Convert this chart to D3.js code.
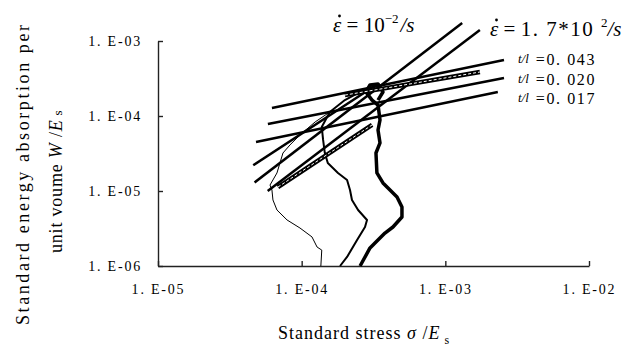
<!DOCTYPE html>
<html>
<head>
<meta charset="utf-8">
<script src="https://cdn.jsdelivr.net/npm/d3@7"></script>
<style>
  body { margin: 0; background: #fff; }
  text { font-family: "Liberation Serif", "DejaVu Serif", serif; fill: #000; }
  .tick text { font-family: "Liberation Serif", serif; font-size: 14px; letter-spacing: 1.8px; }
</style>
</head>
<body>
<svg id="chart"></svg>
<script>
'use strict';

// axis ticks
const xTicks = [1e-5, 1e-4, 1e-3, 1e-2];
const yTicks = [1e-6, 1e-5, 1e-4, 1e-3];
const tickLabels = ['1. E-06', '1. E-05', '1. E-04', '1. E-03'];
const xTickLabels = ['1. E-05', '1. E-04', '1. E-03', '1. E-02'];

const thinCurve = [
  [1.36e-4, 1.0e-6], [1.38e-4, 1.63e-6], [1.28e-4, 1.79e-6], [1.18e-4, 2.44e-6],
  [9.73e-5, 3.21e-6], [7.91e-5, 4.11e-6], [6.73e-5, 5.58e-6], [6.31e-5, 7.59e-6],
  [6.21e-5, 1.03e-5], [6.02e-5, 1.20e-5], [6.73e-5, 1.74e-5], [7.41e-5, 3.21e-5],
  [8.29e-5, 4.11e-5], [9.73e-5, 5.58e-5], [1.24e-4, 8.32e-5], [1.57e-4, 1.13e-4]
];
const mediumCurve = [
  [1.85e-4, 1.0e-6], [2.07e-4, 1.32e-6], [2.43e-4, 2.22e-6], [2.76e-4, 3.31e-6],
  [2.85e-4, 4.11e-6], [2.47e-4, 5.58e-6], [2.24e-4, 7.59e-6], [2.17e-4, 1.03e-5],
  [2.07e-4, 1.40e-5], [1.79e-4, 1.74e-5], [1.52e-4, 2.36e-5], [1.45e-4, 3.21e-5],
  [1.41e-4, 4.79e-5], [1.38e-4, 7.13e-5], [1.57e-4, 1.13e-4], [2.0e-4, 1.63e-4],
  [2.55e-4, 2.09e-4]
];
const thickCurve = [
  [2.55e-4, 1.0e-6], [2.99e-4, 1.74e-6], [3.80e-4, 2.75e-6], [4.32e-4, 3.31e-6],
  [4.99e-4, 4.50e-6], [4.99e-4, 6.12e-6], [4.61e-4, 8.32e-6], [4.12e-4, 1.03e-5],
  [3.68e-4, 1.28e-5], [3.34e-4, 1.74e-5], [3.29e-4, 3.21e-5], [3.51e-4, 4.37e-5],
  [3.40e-4, 6.51e-5], [3.51e-4, 8.85e-5], [3.40e-4, 1.40e-4], [3.09e-4, 1.63e-4],
  [2.80e-4, 2.09e-4], [2.99e-4, 2.59e-4], [3.40e-4, 2.67e-4], [3.68e-4, 2.09e-4],
  [3.40e-4, 1.63e-4]
];

// fitted straight lines, start and end points
const rateLines = [
  [[4.7e-5, 1.3e-5], [1.31e-3, 1.74e-3]],
  [[5.8e-5, 1.0e-5], [1.74e-3, 1.40e-3]],
  [[4.6e-5, 2.2e-5], [3.1e-4, 2.4e-4]]
];
const ratioLines = [
  [[6.21e-5, 1.28e-4], [2.56e-3, 5.58e-4]],
  [[5.82e-5, 7.82e-5], [2.56e-3, 3.21e-4]],
  [[4.81e-5, 4.50e-5], [2.32e-3, 2.09e-4]]
];
const hatchLines = [
  [[6.84e-5, 1.13e-5], [3.09e-4, 7.59e-5]],
  [[2.0e-4, 1.9e-4], [1.74e-3, 3.86e-4]]
];
const ratioLabels = ['=0. 043', '=0. 020', '=0. 017'];

const width = 632;
const height = 346;
const margin = { top: 41, right: 43, bottom: 80, left: 158 };

const svg = d3.select('#chart')
  .attr('width', width)
  .attr('height', height);

const x = d3.scaleLog().domain([1e-5, 1e-2]).range([margin.left, width - margin.right]);
const y = d3.scaleLog().domain([1e-6, 1e-3]).range([height - margin.bottom, margin.top]);

const xAxis = d3.axisBottom(x)
  .tickValues(xTicks)
  .tickSize(-5)
  .tickSizeOuter(0)
  .tickPadding(18)
  .tickFormat((d, i) => xTickLabels[i]);

const yAxis = d3.axisLeft(y)
  .tickValues(yTicks)
  .tickSize(-5)
  .tickSizeOuter(0)
  .tickPadding(16)
  .tickFormat((d, i) => tickLabels[i]);

const gx = svg.append('g')
  .attr('transform', 'translate(0,' + y(1e-6) + ')')
  .call(xAxis);
const gy = svg.append('g')
  .attr('transform', 'translate(' + x(1e-5) + ',0)')
  .call(yAxis);

[gx, gy].forEach((g) => {
  g.select('.domain').attr('stroke', '#222').attr('stroke-width', 1.4);
  g.selectAll('.tick line').attr('stroke', '#222').attr('stroke-width', 1.4);
  g.selectAll('.tick text').attr('fill', '#000');
});

const line = d3.line()
  .x(d => x(d[0]))
  .y(d => y(d[1]))
  .curve(d3.curveLinear);

const plot = svg.append('g').attr('fill', 'none').attr('stroke', '#000')
  .attr('stroke-linejoin', 'round');

plot.append('path').datum(thinCurve).attr('d', line).attr('stroke-width', 1);
plot.append('path').datum(mediumCurve).attr('d', line).attr('stroke-width', 2);
plot.append('path').datum(thickCurve).attr('d', line).attr('stroke-width', 3.5);

plot.selectAll('.rate').data(rateLines).enter()
  .append('path')
  .attr('class', 'rate')
  .attr('d', line)
  .attr('stroke-width', 2.5);

plot.selectAll('.ratio').data(ratioLines).enter()
  .append('path')
  .attr('class', 'ratio')
  .attr('d', line)
  .attr('stroke-width', 2.5);

plot.selectAll('.hatch').data(hatchLines).enter()
  .append('path')
  .attr('class', 'hatch')
  .attr('d', line)
  .attr('stroke-width', 4.5);
plot.selectAll('.hatch-w').data(hatchLines).enter()
  .append('path')
  .attr('class', 'hatch-w')
  .attr('d', line)
  .attr('stroke', '#fff')
  .attr('stroke-width', 1)
  .attr('stroke-dasharray', '3,2');

// strain-rate labels: epsilon with a time-derivative dot drawn above it
function rateLabel(x0, y0, parts) {
  const t = svg.append('text').attr('x', x0).attr('y', y0).attr('font-size', 21);
  t.append('tspan').attr('font-style', 'italic').text('\u03B5');
  t.append('tspan').text(' = ');
  parts(t);
  svg.append('circle')
    .attr('cx', x0 + 6.5)
    .attr('cy', y0 - 16)
    .attr('r', 1.4)
    .attr('fill', '#000');
}

rateLabel(333, 32, (t) => {
  t.append('tspan').text('10');
  t.append('tspan').attr('dy', -9).attr('font-size', 13).text('\u22122');
  t.append('tspan').attr('dy', 9).attr('dx', 2).attr('font-style', 'italic').text('/s');
});

rateLabel(490, 36, (t) => {
  t.append('tspan').attr('letter-spacing', 1.5).text('1. 7*10 ');
  t.append('tspan').attr('dy', -9).attr('font-size', 13).text('2');
  t.append('tspan').attr('dy', 9).attr('font-style', 'italic').text('/s');
});

ratioLabels.forEach((t, i) => {
  const lt = svg.append('text').attr('x', 518).attr('y', 65 + i * 19.5).attr('font-size', 16);
  lt.append('tspan').attr('font-style', 'italic').attr('font-size', 13).attr('dy', -2).text('t/l');
  lt.append('tspan').attr('dx', 7).attr('dy', 2).attr('letter-spacing', 1.6).text(t);
});

// axis titles
const xt = svg.append('text').attr('x', 278).attr('y', 339).attr('font-size', 18)
  .attr('letter-spacing', 1);
xt.append('tspan').text('Standard stress ');
xt.append('tspan').attr('font-style', 'italic').text('\u03C3');
xt.append('tspan').text(' /');
xt.append('tspan').attr('font-style', 'italic').text('E');
xt.append('tspan').attr('dy', 5).attr('font-size', 12).text(' s');

svg.append('text')
  .attr('transform', 'translate(29,175) rotate(-90)')
  .attr('text-anchor', 'middle')
  .attr('font-size', 18)
  .attr('textLength', 300)
  .attr('lengthAdjust', 'spacing')
  .text('Standard energy absorption per');

const yt2 = svg.append('text')
  .attr('transform', 'translate(62,253) rotate(-90)')
  .attr('font-size', 18)
  .attr('letter-spacing', 0.8);
yt2.append('tspan').text('unit voume  ');
yt2.append('tspan').attr('font-style', 'italic').text('W');
yt2.append('tspan').text(' /');
yt2.append('tspan').attr('font-style', 'italic').text('E');
yt2.append('tspan').attr('font-size', 13).text(' s');
</script>
</body>
</html>
